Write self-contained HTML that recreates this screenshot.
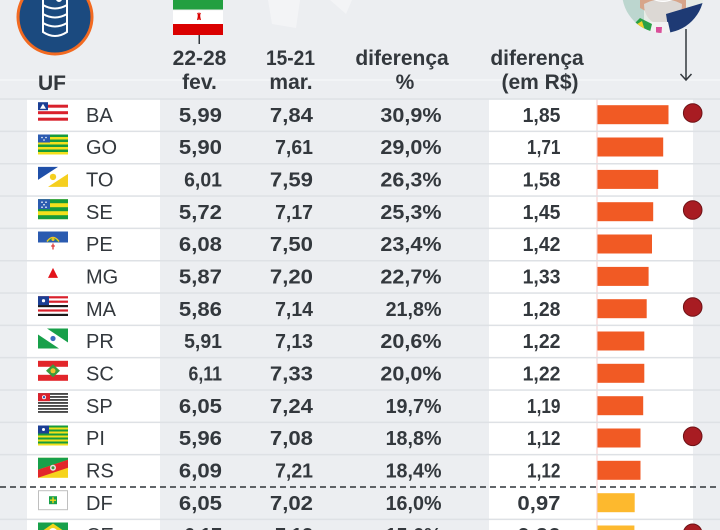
<!DOCTYPE html>
<html>
<head>
<meta charset="utf-8">
<style>
  html,body{margin:0;padding:0;background:#eceef1;}
  body{width:720px;height:530px;overflow:hidden;}
  svg{display:block;}
  .h{font-family:"Liberation Sans",Arial,sans-serif;font-weight:bold;font-size:21px;fill:#33383d;}
  .n{font-family:"Liberation Sans",Arial,sans-serif;font-weight:bold;font-size:20px;fill:#33383d;}
  .u{font-family:"Liberation Sans",Arial,sans-serif;font-size:20px;fill:#33383d;}
</style>
</head>
<body>
<svg width="720" height="530" viewBox="0 0 720 530" xmlns="http://www.w3.org/2000/svg">
  <defs>
    <clipPath id="ph"><circle cx="663" cy="-8" r="41"/></clipPath>
  </defs>
  <rect x="0" y="0" width="720" height="530" fill="#eceef1"/>

  <!-- faint watermark shapes -->
  <path d="M268 0 L300 0 L296 28 L272 24 Z" fill="#f3f4f6"/>
  <path d="M330 0 L352 0 L346 14 Z" fill="#f3f4f6"/>

  <!-- header subtle white line -->
  <rect x="0" y="79.5" width="720" height="1" fill="#f8f9fa"/>

  <!-- white bands -->
  <rect x="27" y="99" width="133" height="431" fill="#ffffff"/>
  <rect x="489" y="99" width="204" height="431" fill="#ffffff"/>

  <!-- axis line for bars -->
  <rect x="596.5" y="99" width="1" height="431" fill="#f4caca"/>

  <!-- row lines -->
  <g fill="#dee1e5">
    <rect x="0" y="98.3" width="720" height="1.5"/>
    <rect x="0" y="130.6" width="720" height="1.5"/>
    <rect x="0" y="163" width="720" height="1.5"/>
    <rect x="0" y="195.3" width="720" height="1.5"/>
    <rect x="0" y="227.6" width="720" height="1.5"/>
    <rect x="0" y="260" width="720" height="1.5"/>
    <rect x="0" y="292.3" width="720" height="1.5"/>
    <rect x="0" y="324.6" width="720" height="1.5"/>
    <rect x="0" y="356.9" width="720" height="1.5"/>
    <rect x="0" y="389.3" width="720" height="1.5"/>
    <rect x="0" y="421.6" width="720" height="1.5"/>
    <rect x="0" y="453.9" width="720" height="1.5"/>
    <rect x="0" y="518.6" width="720" height="1.5"/>
  </g>
  <!-- dashed separator -->
  <line x1="0" y1="487" x2="720" y2="487" stroke="#2f3338" stroke-width="1.5" stroke-dasharray="6,4"/>

  <!-- barrel icon -->
  <circle cx="55" cy="17" r="37" fill="#1b4a7f" stroke="#f26a21" stroke-width="3"/>
  <g fill="none" stroke="#ffffff" stroke-width="2" stroke-linecap="round">
    <path d="M43 -4 L43 32 Q55 40 67 32 L67 -4"/>
    <path d="M43 5 Q55 12 67 5"/>
    <path d="M43 14 Q55 21 67 14"/>
    <path d="M43 23 Q55 30 67 23"/>
    <circle cx="59" cy="-1" r="2"/>
  </g>

  <!-- Iran flag -->
  <rect x="173" y="0" width="50" height="10" fill="#239f40"/>
  <rect x="173" y="10" width="50" height="14" fill="#ffffff"/>
  <rect x="173" y="24" width="50" height="11" fill="#da0000"/>
  <rect x="173" y="9.5" width="50" height="0.8" fill="#e8e8e8"/>
  <path d="M197.5 13 Q199 15 197.5 20 M200.5 13 Q199 15 200.5 20 M199 12.5 L199 20" stroke="#da0000" stroke-width="1" fill="none"/>
  <rect x="198.5" y="35" width="1.5" height="9" fill="#33383d"/>

  <!-- photo -->
  <g clip-path="url(#ph)">
    <rect x="620" y="-50" width="90" height="90" fill="#e6ece6"/>
    <rect x="622" y="0" width="22" height="34" fill="#bcd6cf"/>
    <path d="M640 -10 Q663 -25 686 -10 L686 8 Q663 22 640 8 Z" fill="#d7a58a"/>
    <path d="M644 4 Q663 -6 682 4 Q682 22 663 26 Q644 22 644 4 Z" fill="#dcd8d4"/>
    <path d="M652 -1 Q663 5 674 -1 Q663 2 652 -1 Z" fill="#ffffff"/>
    <path d="M666 14 L706 2 L706 40 L670 40 Z" fill="#1e3a74"/>
    <path d="M650 22 L668 22 L672 40 L652 40 Z" fill="#f2f2f2"/>
    <path d="M656 27 L662 27 L661 40 L656 40 Z" fill="#d94f9a"/>
    <path d="M630 28 L640 18 L652 24 L648 40 L632 40 Z" fill="#2aa046"/>
    <path d="M634 26 L642 21 L646 34 L638 38 Z" fill="#f1d02a"/>
  </g>
  <!-- arrow -->
  <line x1="686" y1="29" x2="686" y2="80" stroke="#33383d" stroke-width="1.5"/>
  <path d="M680.5 74 L686 80 L691.5 74" fill="none" stroke="#33383d" stroke-width="1.5"/>

  <!-- headers -->
  <text class="h" x="38" y="90">UF</text>
  <text class="h" x="199.5" y="65" text-anchor="middle">22-28</text>
  <text class="h" x="199.5" y="89" text-anchor="middle">fev.</text>
  <text class="h" x="290.5" y="65" text-anchor="middle" textLength="49" lengthAdjust="spacingAndGlyphs">15-21</text>
  <text class="h" x="291" y="89" text-anchor="middle">mar.</text>
  <text class="h" x="402" y="65" text-anchor="middle">diferença</text>
  <text class="h" x="405" y="89" text-anchor="middle">%</text>
  <text class="h" x="537" y="65" text-anchor="middle">diferença</text>
  <text class="h" x="540" y="89" text-anchor="middle">(em R$)</text>

  <!-- flags -->
  <g transform="translate(38,102.2)">
    <rect width="30" height="20" fill="#fff"/>
    <rect x="10" y="2.5" width="20" height="3" fill="#d9212c"/>
    <rect x="0" y="9" width="30" height="3" fill="#d9212c"/>
    <rect x="0" y="15.5" width="30" height="3" fill="#d9212c"/>
    <rect x="0" y="0" width="10" height="8" fill="#1c3f94"/>
    <path d="M5 1.5 L8 6.5 L2 6.5 Z" fill="#fff"/>
  </g>
  <g transform="translate(38,134.5)">
    <rect width="30" height="20" fill="#f3e01c"/>
    <rect y="0" width="30" height="2.5" fill="#169b3c"/>
    <rect y="5" width="30" height="2.5" fill="#169b3c"/>
    <rect y="10" width="30" height="2.5" fill="#169b3c"/>
    <rect y="15" width="30" height="2.5" fill="#169b3c"/>
    <rect x="0" y="0" width="12" height="8" fill="#2b5bb0"/>
    <circle cx="4" cy="3" r="0.8" fill="#fff"/><circle cx="8" cy="3" r="0.8" fill="#fff"/><circle cx="6" cy="5.5" r="0.8" fill="#fff"/>
  </g>
  <g transform="translate(38,166.9)">
    <rect width="30" height="20" fill="#fff"/>
    <path d="M0 0 L20 0 L0 13 Z" fill="#1f4fa8"/>
    <path d="M10 20 L30 7 L30 20 Z" fill="#f5cf1f"/>
    <circle cx="15" cy="10" r="3.2" fill="#f5cf1f"/>
  </g>
  <g transform="translate(38,199.2)">
    <rect width="30" height="20" fill="#f3e01c"/>
    <rect y="0" width="30" height="4" fill="#169b3c"/>
    <rect y="8" width="30" height="4" fill="#169b3c"/>
    <rect y="16" width="30" height="4" fill="#169b3c"/>
    <rect x="0" y="0" width="12" height="10" fill="#2b5bb0"/>
    <circle cx="4" cy="3" r="0.8" fill="#fff"/><circle cx="8" cy="3" r="0.8" fill="#fff"/><circle cx="6" cy="5.5" r="0.8" fill="#fff"/><circle cx="4" cy="8" r="0.8" fill="#fff"/><circle cx="8" cy="8" r="0.8" fill="#fff"/>
  </g>
  <g transform="translate(38,231.5)">
    <rect width="30" height="20" fill="#fff"/>
    <rect width="30" height="11" fill="#2b5bb0"/>
    <path d="M9 10 Q15 2 21 10" fill="none" stroke="#f4c522" stroke-width="1.5"/>
    <path d="M10.5 10 Q15 4 19.5 10" fill="none" stroke="#2ca04a" stroke-width="1"/>
    <circle cx="15" cy="8" r="1.5" fill="#f4c522"/>
    <rect x="14.4" y="12" width="1.2" height="6" fill="#e02828"/>
    <rect x="13" y="14" width="4" height="1" fill="#e02828"/>
  </g>
  <g transform="translate(38,263.9)">
    <rect width="30" height="20" fill="#fff"/>
    <path d="M15 4 L20 14 L10 14 Z" fill="#e3141b"/>
  </g>
  <g transform="translate(38,296.2)">
    <rect width="30" height="20" fill="#fff"/>
    <rect y="0" width="30" height="2.2" fill="#d9212c"/>
    <rect y="4.4" width="30" height="2.2" fill="#d9212c"/>
    <rect y="8.8" width="30" height="2.2" fill="#1a1a1a"/>
    <rect y="13.2" width="30" height="2.2" fill="#d9212c"/>
    <rect y="17.6" width="30" height="2.2" fill="#1a1a1a"/>
    <rect x="0" y="0" width="11" height="9" fill="#1c3f94"/>
    <circle cx="5.5" cy="4.5" r="1.6" fill="#fff"/>
  </g>
  <g transform="translate(38,328.5)">
    <rect width="30" height="20" fill="#18a04a"/>
    <path d="M0 0 L9 0 L30 14 L30 20 L21 20 L0 6 Z" fill="#fff"/>
    <circle cx="15" cy="10" r="2.6" fill="#3c6bc0"/>
  </g>
  <g transform="translate(38,360.8)">
    <rect width="30" height="20" fill="#fff"/>
    <rect width="30" height="6" fill="#e2262b"/>
    <rect y="14" width="30" height="6" fill="#e2262b"/>
    <path d="M15 3.5 L22 10 L15 16.5 L8 10 Z" fill="#3a9c3c"/>
    <circle cx="15" cy="10" r="2.5" fill="#f2c230"/>
  </g>
  <g transform="translate(38,393.2)">
    <rect width="30" height="20" fill="#fff"/>
    <rect y="0" width="30" height="1.5" fill="#1a1a1a"/>
    <rect y="3" width="30" height="1.5" fill="#1a1a1a"/>
    <rect y="6" width="30" height="1.5" fill="#1a1a1a"/>
    <rect y="9" width="30" height="1.5" fill="#1a1a1a"/>
    <rect y="12" width="30" height="1.5" fill="#1a1a1a"/>
    <rect y="15" width="30" height="1.5" fill="#1a1a1a"/>
    <rect y="18" width="30" height="1.5" fill="#1a1a1a"/>
    <rect x="0" y="0" width="12" height="8" fill="#d9212c"/>
    <circle cx="6" cy="4" r="2" fill="#fff"/>
    <circle cx="6" cy="4" r="1.2" fill="#2b5bb0"/>
  </g>
  <g transform="translate(38,425.5)">
    <rect width="30" height="20" fill="#f3e01c"/>
    <rect y="0" width="30" height="2" fill="#169b3c"/>
    <rect y="4" width="30" height="2" fill="#169b3c"/>
    <rect y="8" width="30" height="2" fill="#169b3c"/>
    <rect y="12" width="30" height="2" fill="#169b3c"/>
    <rect y="16" width="30" height="2" fill="#169b3c"/>
    <rect x="0" y="0" width="11" height="8" fill="#1c3f94"/>
    <circle cx="5.5" cy="4" r="1.5" fill="#fff"/>
  </g>
  <g transform="translate(38,457.8)">
    <rect width="30" height="20" fill="#f6d31c"/>
    <path d="M0 0 L30 0 L30 2 L0 12 Z" fill="#18a04a"/>
    <path d="M0 12 L30 2 L30 10 L0 20 Z" fill="#e2262b"/>
    <circle cx="15" cy="10" r="3" fill="#e6e6e6"/>
    <circle cx="15" cy="10" r="1.5" fill="#3a9c3c"/>
  </g>
  <g transform="translate(38,490.2)">
    <rect x="0.5" y="0.5" width="29" height="19" fill="#fff" stroke="#bfbfbf" stroke-width="1"/>
    <rect x="11" y="6" width="8" height="8" fill="#18a04a"/>
    <rect x="14.3" y="7" width="1.4" height="6" fill="#f3d51c"/>
    <rect x="12" y="9.3" width="6" height="1.4" fill="#f3d51c"/>
  </g>
  <g transform="translate(38,522.5)">
    <rect width="30" height="20" fill="#18a04a"/>
    <path d="M15 1 L28 10 L15 19 L2 10 Z" fill="#f3d51c"/>
    <circle cx="15" cy="10" r="4.5" fill="#fff"/>
  </g>

  <!-- UF names -->
  <g class="u">
    <text x="86" y="121.8">BA</text>
    <text x="86" y="154.1">GO</text>
    <text x="86" y="186.5">TO</text>
    <text x="86" y="218.8">SE</text>
    <text x="86" y="251.1">PE</text>
    <text x="86" y="283.5">MG</text>
    <text x="86" y="315.8">MA</text>
    <text x="86" y="348.1">PR</text>
    <text x="86" y="380.4">SC</text>
    <text x="86" y="412.8">SP</text>
    <text x="86" y="445.1">PI</text>
    <text x="86" y="477.4">RS</text>
    <text x="86" y="509.8">DF</text>
    <text x="86" y="542.1">CE</text>
  </g>

  <!-- column 1 -->
  <g class="n" text-anchor="end" lengthAdjust="spacingAndGlyphs">
    <text x="222" y="121.8" textLength="43.1" lengthAdjust="spacingAndGlyphs">5,99</text>
    <text x="222" y="154.1" textLength="43.1" lengthAdjust="spacingAndGlyphs">5,90</text>
    <text x="222" y="186.5" textLength="37.9" lengthAdjust="spacingAndGlyphs">6,01</text>
    <text x="222" y="218.8" textLength="43.1" lengthAdjust="spacingAndGlyphs">5,72</text>
    <text x="222" y="251.1" textLength="43.1" lengthAdjust="spacingAndGlyphs">6,08</text>
    <text x="222" y="283.5" textLength="43.1" lengthAdjust="spacingAndGlyphs">5,87</text>
    <text x="222" y="315.8" textLength="43.1" lengthAdjust="spacingAndGlyphs">5,86</text>
    <text x="222" y="348.1" textLength="37.9" lengthAdjust="spacingAndGlyphs">5,91</text>
    <text x="222" y="380.4" textLength="33.5" lengthAdjust="spacingAndGlyphs">6,11</text>
    <text x="222" y="412.8" textLength="43.1" lengthAdjust="spacingAndGlyphs">6,05</text>
    <text x="222" y="445.1" textLength="43.1" lengthAdjust="spacingAndGlyphs">5,96</text>
    <text x="222" y="477.4" textLength="43.1" lengthAdjust="spacingAndGlyphs">6,09</text>
    <text x="222" y="509.8" textLength="43.1" lengthAdjust="spacingAndGlyphs">6,05</text>
    <text x="222" y="542.1" textLength="37.9" lengthAdjust="spacingAndGlyphs">6,17</text>
  </g>
  <!-- column 2 -->
  <g class="n" text-anchor="end">
    <text x="313" y="121.8" textLength="43.1" lengthAdjust="spacingAndGlyphs">7,84</text>
    <text x="313" y="154.1" textLength="37.9" lengthAdjust="spacingAndGlyphs">7,61</text>
    <text x="313" y="186.5" textLength="43.1" lengthAdjust="spacingAndGlyphs">7,59</text>
    <text x="313" y="218.8" textLength="37.9" lengthAdjust="spacingAndGlyphs">7,17</text>
    <text x="313" y="251.1" textLength="43.1" lengthAdjust="spacingAndGlyphs">7,50</text>
    <text x="313" y="283.5" textLength="43.1" lengthAdjust="spacingAndGlyphs">7,20</text>
    <text x="313" y="315.8" textLength="37.9" lengthAdjust="spacingAndGlyphs">7,14</text>
    <text x="313" y="348.1" textLength="37.9" lengthAdjust="spacingAndGlyphs">7,13</text>
    <text x="313" y="380.4" textLength="43.1" lengthAdjust="spacingAndGlyphs">7,33</text>
    <text x="313" y="412.8" textLength="43.1" lengthAdjust="spacingAndGlyphs">7,24</text>
    <text x="313" y="445.1" textLength="43.1" lengthAdjust="spacingAndGlyphs">7,08</text>
    <text x="313" y="477.4" textLength="37.9" lengthAdjust="spacingAndGlyphs">7,21</text>
    <text x="313" y="509.8" textLength="43.1" lengthAdjust="spacingAndGlyphs">7,02</text>
    <text x="313" y="542.1" textLength="37.9" lengthAdjust="spacingAndGlyphs">7,13</text>
  </g>
  <!-- column 3 -->
  <g class="n" text-anchor="end">
    <text x="441.5" y="121.8" textLength="61.1" lengthAdjust="spacingAndGlyphs">30,9%</text>
    <text x="441.5" y="154.1" textLength="61.1" lengthAdjust="spacingAndGlyphs">29,0%</text>
    <text x="441.5" y="186.5" textLength="61.1" lengthAdjust="spacingAndGlyphs">26,3%</text>
    <text x="441.5" y="218.8" textLength="61.1" lengthAdjust="spacingAndGlyphs">25,3%</text>
    <text x="441.5" y="251.1" textLength="61.1" lengthAdjust="spacingAndGlyphs">23,4%</text>
    <text x="441.5" y="283.5" textLength="61.1" lengthAdjust="spacingAndGlyphs">22,7%</text>
    <text x="441.5" y="315.8" textLength="55.9" lengthAdjust="spacingAndGlyphs">21,8%</text>
    <text x="441.5" y="348.1" textLength="61.1" lengthAdjust="spacingAndGlyphs">20,6%</text>
    <text x="441.5" y="380.4" textLength="61.1" lengthAdjust="spacingAndGlyphs">20,0%</text>
    <text x="441.5" y="412.8" textLength="55.9" lengthAdjust="spacingAndGlyphs">19,7%</text>
    <text x="441.5" y="445.1" textLength="55.9" lengthAdjust="spacingAndGlyphs">18,8%</text>
    <text x="441.5" y="477.4" textLength="55.9" lengthAdjust="spacingAndGlyphs">18,4%</text>
    <text x="441.5" y="509.8" textLength="55.9" lengthAdjust="spacingAndGlyphs">16,0%</text>
    <text x="441.5" y="542.1" textLength="55.9" lengthAdjust="spacingAndGlyphs">15,6%</text>
  </g>
  <!-- column 4 -->
  <g class="n" text-anchor="end">
    <text x="560.5" y="121.8" textLength="37.9" lengthAdjust="spacingAndGlyphs">1,85</text>
    <text x="560.5" y="154.1" textLength="33.5" lengthAdjust="spacingAndGlyphs">1,71</text>
    <text x="560.5" y="186.5" textLength="37.9" lengthAdjust="spacingAndGlyphs">1,58</text>
    <text x="560.5" y="218.8" textLength="37.9" lengthAdjust="spacingAndGlyphs">1,45</text>
    <text x="560.5" y="251.1" textLength="37.9" lengthAdjust="spacingAndGlyphs">1,42</text>
    <text x="560.5" y="283.5" textLength="37.9" lengthAdjust="spacingAndGlyphs">1,33</text>
    <text x="560.5" y="315.8" textLength="37.9" lengthAdjust="spacingAndGlyphs">1,28</text>
    <text x="560.5" y="348.1" textLength="37.9" lengthAdjust="spacingAndGlyphs">1,22</text>
    <text x="560.5" y="380.4" textLength="37.9" lengthAdjust="spacingAndGlyphs">1,22</text>
    <text x="560.5" y="412.8" textLength="33.5" lengthAdjust="spacingAndGlyphs">1,19</text>
    <text x="560.5" y="445.1" textLength="33.5" lengthAdjust="spacingAndGlyphs">1,12</text>
    <text x="560.5" y="477.4" textLength="33.5" lengthAdjust="spacingAndGlyphs">1,12</text>
    <text x="560.5" y="509.8" textLength="43.1" lengthAdjust="spacingAndGlyphs">0,97</text>
    <text x="560.5" y="542.1" textLength="43.1" lengthAdjust="spacingAndGlyphs">0,96</text>
  </g>

  <!-- bars -->
  <g fill="#f15a24">
    <rect x="597.5" y="105.2" width="71" height="19"/>
    <rect x="597.5" y="137.5" width="65.7" height="19"/>
    <rect x="597.5" y="169.9" width="60.7" height="19"/>
    <rect x="597.5" y="202.2" width="55.7" height="19"/>
    <rect x="597.5" y="234.5" width="54.5" height="19"/>
    <rect x="597.5" y="266.9" width="51.1" height="19"/>
    <rect x="597.5" y="299.2" width="49.2" height="19"/>
    <rect x="597.5" y="331.5" width="46.8" height="19"/>
    <rect x="597.5" y="363.8" width="46.8" height="19"/>
    <rect x="597.5" y="396.2" width="45.7" height="19"/>
    <rect x="597.5" y="428.5" width="43" height="19"/>
    <rect x="597.5" y="460.8" width="43" height="19"/>
  </g>
  <g fill="#fdb92e">
    <rect x="597.5" y="493.2" width="37.2" height="19"/>
    <rect x="597.5" y="525.5" width="36.9" height="19"/>
  </g>

  <!-- red dots -->
  <g fill="#a81c22" stroke="#6e1216" stroke-width="1">
    <circle cx="692.7" cy="113" r="9.3"/>
    <circle cx="692.7" cy="210" r="9.3"/>
    <circle cx="692.7" cy="307" r="9.3"/>
    <circle cx="692.7" cy="436.3" r="9.3"/>
    <circle cx="692.7" cy="533.3" r="9.3"/>
  </g>
</svg>
</body>
</html>
